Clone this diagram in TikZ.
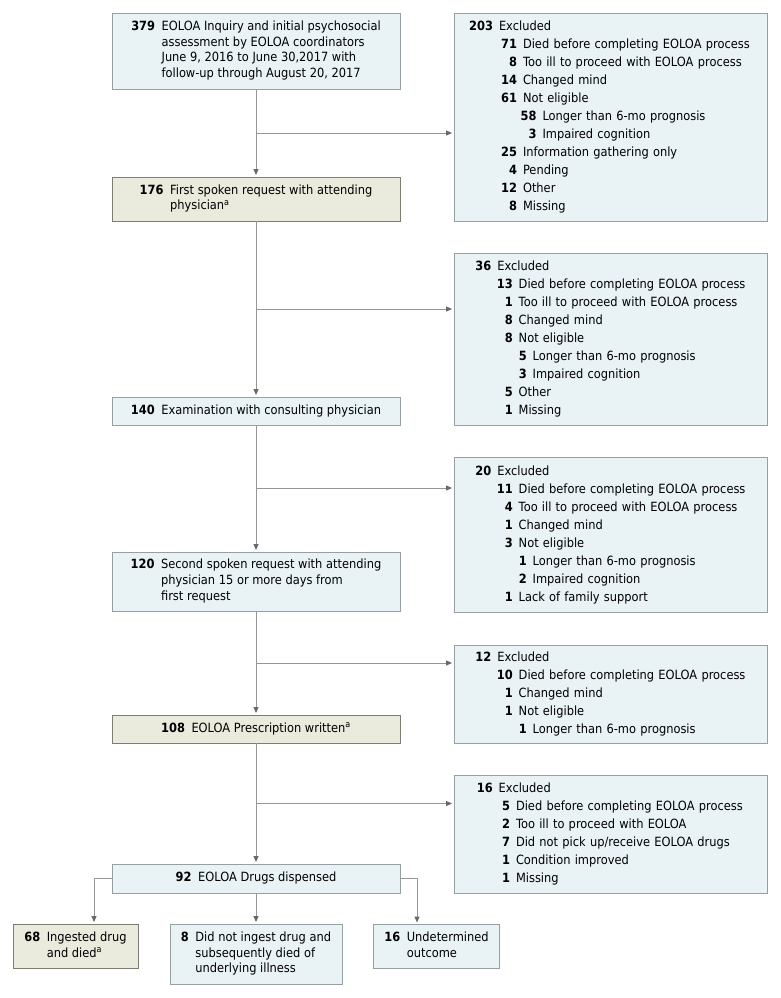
\documentclass[tikz,border=0pt]{standalone}
\usepackage{fontspec}
\setmainfont[FakeStretch=0.9]{DejaVu Sans}
\usetikzlibrary{arrows.meta}
\definecolor{bfill}{RGB}{233,242,245}
\definecolor{bdraw}{RGB}{150,160,163}
\definecolor{gfill}{RGB}{234,234,221}
\definecolor{gdraw}{RGB}{125,125,115}
\definecolor{lncol}{RGB}{150,150,150}
\definecolor{tipcol}{RGB}{105,105,105}
\newcommand\xl[3]{\hspace*{#1pt}\llap{\bfseries #2}\hspace{6pt}#3}
\newcommand\nb[1]{\textbf{#1}}
\begin{document}
\begin{tikzpicture}[x=1pt,y=-1pt,
  bluebox/.style={draw=bdraw, fill=bfill, line width=0.9pt, inner sep=0pt, font=\fontsize{12.7}{15.7}\selectfont},
  beigebox/.style={bluebox, draw=gdraw, fill=gfill},
  exbox/.style={bluebox, minimum width=313pt, text width=313pt, align=left, font=\fontsize{12.7}{18}\selectfont},
  arr/.style={draw=lncol, line width=1pt, -{Triangle[length=6pt,width=5pt,color=tipcol]}, shorten >=1.5pt},
  ln/.style={draw=lncol, line width=1pt}]
\path[fill=white] (0,0) rectangle (780,998);
\useasboundingbox (0,0) rectangle (780,998);

% main column
\node[bluebox, minimum width=288pt, minimum height=76pt] (b1) at (256,51)
 {\begin{tabular}{@{}r@{\hspace{6.5pt}}l@{}}\nb{379} & EOLOA Inquiry and initial psychosocial\\ & assessment by EOLOA coordinators\\ & June 9, 2016 to June 30,2017 with\\ & follow-up through August 20, 2017\end{tabular}};
\node[beigebox, minimum width=288pt, minimum height=44pt] (b2) at (256,199)
 {\begin{tabular}{@{}r@{\hspace{6.5pt}}l@{}}\nb{176} & First spoken request with attending\\ & physician\textsuperscript{a}\end{tabular}};
\node[bluebox, minimum width=288pt, minimum height=28pt] (b3) at (256,411)
 {\begin{tabular}{@{}r@{\hspace{6.5pt}}l@{}}\nb{140} & Examination with consulting physician\end{tabular}};
\node[bluebox, minimum width=288pt, minimum height=59pt] (b4) at (256,581.5)
 {\begin{tabular}{@{}r@{\hspace{6.5pt}}l@{}}\nb{120} & Second spoken request with attending\\ & physician 15 or more days from\\ & first request\end{tabular}};
\node[beigebox, minimum width=288pt, minimum height=28pt] (b5) at (256,729)
 {\begin{tabular}{@{}r@{\hspace{6.5pt}}l@{}}\nb{108} & EOLOA Prescription written\textsuperscript{a}\end{tabular}};
\node[bluebox, minimum width=288pt, minimum height=29pt] (b6) at (256,878.5)
 {\begin{tabular}{@{}r@{\hspace{6.5pt}}l@{}}\nb{92} & EOLOA Drugs dispensed\end{tabular}};

% outcomes
\node[beigebox, minimum width=125pt, minimum height=44pt] (b7) at (75.5,946)
 {\begin{tabular}{@{}r@{\hspace{6.5pt}}l@{}}\nb{68} & Ingested drug\\ & and died\textsuperscript{a}\end{tabular}};
\node[bluebox, minimum width=172pt, minimum height=60pt] (b8) at (256,954)
 {\begin{tabular}{@{}r@{\hspace{6.5pt}}l@{}}\nb{8} & Did not ingest drug and\\ & subsequently died of\\ & underlying illness\end{tabular}};
\node[bluebox, anchor=west, inner xsep=11pt, minimum height=44pt] (b9) at (373,946)
 {\begin{tabular}{@{}r@{\hspace{6.5pt}}l@{}}\nb{16} & Undetermined\\ & outcome\end{tabular}};
\coordinate (c9) at (417,924);

% exclusion boxes
\node[exbox, minimum height=208pt] (r1) at (610.5,117)
 {\xl{39}{203}{Excluded}\\
  \xl{63}{71}{Died before completing EOLOA process}\\
  \xl{63}{8}{Too ill to proceed with EOLOA process}\\
  \xl{63}{14}{Changed mind}\\
  \xl{63}{61}{Not eligible}\\
  \xl{82.5}{58}{Longer than 6-mo prognosis}\\
  \xl{82.5}{3}{Impaired cognition}\\
  \xl{63}{25}{Information gathering only}\\
  \xl{63}{4}{Pending}\\
  \xl{63}{12}{Other}\\
  \xl{63}{8}{Missing}};
\node[exbox, minimum height=172pt] (r2) at (610.5,339)
 {\xl{37.3}{36}{Excluded}\\
  \xl{58.7}{13}{Died before completing EOLOA process}\\
  \xl{58.7}{1}{Too ill to proceed with EOLOA process}\\
  \xl{58.7}{8}{Changed mind}\\
  \xl{58.7}{8}{Not eligible}\\
  \xl{72.7}{5}{Longer than 6-mo prognosis}\\
  \xl{72.7}{3}{Impaired cognition}\\
  \xl{58.7}{5}{Other}\\
  \xl{58.7}{1}{Missing}};
\node[exbox, minimum height=155pt] (r3) at (610.5,534.5)
 {\xl{37.3}{20}{Excluded}\\
  \xl{58.7}{11}{Died before completing EOLOA process}\\
  \xl{58.7}{4}{Too ill to proceed with EOLOA process}\\
  \xl{58.7}{1}{Changed mind}\\
  \xl{58.7}{3}{Not eligible}\\
  \xl{72.7}{1}{Longer than 6-mo prognosis}\\
  \xl{72.7}{2}{Impaired cognition}\\
  \xl{58.7}{1}{Lack of family support}};
\node[exbox, minimum height=98pt] (r4) at (610.5,694)
 {\xl{37.3}{12}{Excluded}\\
  \xl{58.7}{10}{Died before completing EOLOA process}\\
  \xl{58.7}{1}{Changed mind}\\
  \xl{58.7}{1}{Not eligible}\\
  \xl{72.7}{1}{Longer than 6-mo prognosis}};
\node[exbox, minimum height=118pt] (r5) at (610.5,834)
 {\xl{38.7}{16}{Excluded}\\
  \xl{56}{5}{Died before completing EOLOA process}\\
  \xl{56}{2}{Too ill to proceed with EOLOA}\\
  \xl{56}{7}{Did not pick up/receive EOLOA drugs}\\
  \xl{56}{1}{Condition improved}\\
  \xl{56}{1}{Missing}};

% trunk
\draw[arr] (b1) -- (b2);
\draw[arr] (b2) -- (b3);
\draw[arr] (b3) -- (b4);
\draw[arr] (b4) -- (b5);
\draw[arr] (b5) -- (b6);

% branches
\coordinate (j1) at (256,133);
\coordinate (j2) at (256,309);
\coordinate (j3) at (256,488);
\coordinate (j4) at (256,663);
\coordinate (j5) at (256,803.5);
\draw[arr] (j1) -- (j1 -| r1.west);
\draw[arr] (j2) -- (j2 -| r2.west);
\draw[arr] (j3) -- (j3 -| r3.west);
\draw[arr] (j4) -- (j4 -| r4.west);
\draw[arr] (j5) -- (j5 -| r5.west);

% outcomes connectors
\draw[arr] (b6.west) -| ([xshift=18.5pt]b7.north);
\draw[arr] (b6) -- (b8);
\draw[arr] (b6.east) -| (c9);
\end{tikzpicture}
\end{document}
